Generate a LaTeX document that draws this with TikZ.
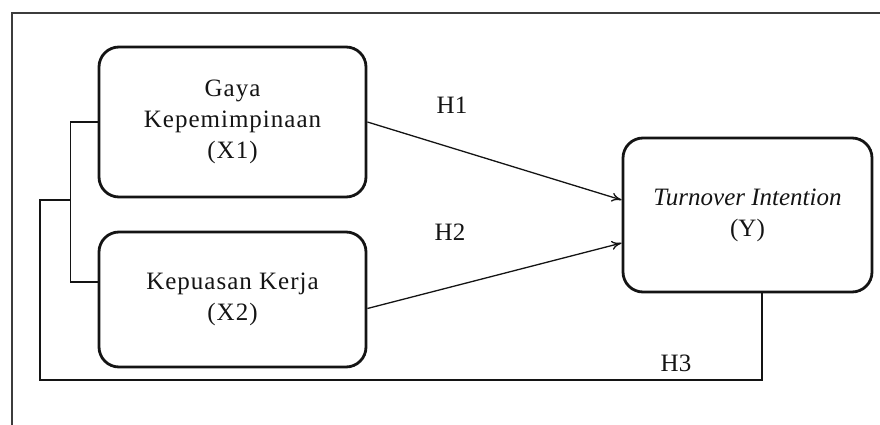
\documentclass[tikz,border=0pt]{standalone}
\usepackage{fontspec}
\setmainfont{Liberation Serif}
\usepackage{tikz}
\usetikzlibrary{arrows.meta, positioning, calc}
\definecolor{framegray}{RGB}{60, 60, 60}
\definecolor{inkblack}{RGB}{20, 20, 20}

\begin{document}
\begin{tikzpicture}[
    x=1pt, y=-1pt,
    every node/.style={font=\fontsize{25}{31}\selectfont, align=center, text=inkblack},
    varbox/.style={draw=inkblack, fill=white, rounded corners=20pt, line width=2.8pt, font=\fontsize{25}{31}\selectfont\addfontfeature{LetterSpace=4}},
    link/.style={line width=1.3pt, draw=inkblack},
    arr/.style={-{To[length=3.5mm, width=3.2mm]}, line width=1.3pt, draw=inkblack},
    hlabel/.style={inner sep=0pt}
]
\useasboundingbox (0,0) rectangle (880,425);

% Outer frame (top and left only)
\draw[line width=1.5pt, framegray] (880,13) -| (12,425);

% Variables
\node[varbox, minimum width=267pt, minimum height=150pt] (x1) at (232.5,122) {Gaya\\Kepemimpinaan\\(X1)};
\node[varbox, minimum width=267pt, minimum height=135pt] (x2) at (232.5,299.5) {Kepuasan Kerja\\(X2)};
\node[varbox, minimum width=249pt, minimum height=154pt, font=\fontsize{25}{31}\selectfont] (y) at (747.5,215) {\textit{Turnover Intention}\\(Y)};

% Hypothesis labels
\node[hlabel] (h1) at (452,105) {H1};
\node[hlabel] (h2) at (450,232) {H2};
\node[hlabel] (h3) at (676,363) {H3};

% Connectors
\draw[arr] (x1.east) -- ([yshift=15pt]y.west);
\draw[arr] ([yshift=-9pt]x2.east) -- ([yshift=-28pt]y.west);

% Bracket joining X1 and X2, and the H3 line
\draw[link] (x1.west) -- ++(-27,0) coordinate (brk) |- ([yshift=17.5pt]x2.west);
\coordinate (join) at (brk |- 0,200);
\coordinate (low) at (40,380);
\draw[link] ([xshift=14.5pt]y.south) |- (low) |- (join);

\end{tikzpicture}
\end{document}
